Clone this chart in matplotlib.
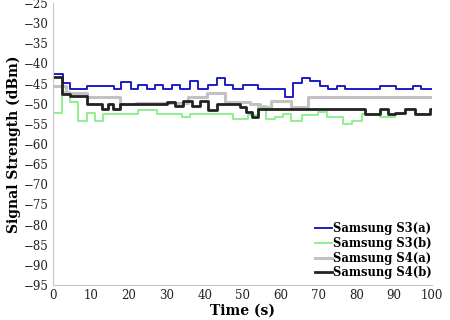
import matplotlib
matplotlib.use('Agg')
import matplotlib.pyplot as plt

# Step series (time in s, signal in dBm)
s3a_t = [0, 2.5, 4.5, 9, 16, 18, 20.5, 22.5, 24.7, 27, 29, 31.3, 33.5, 36, 38.3, 41,
         43.2, 45.4, 47.6, 50, 54.1, 61.2, 63.4, 65.6, 67.8, 70.4, 72.6, 74.8, 77,
         86.2, 90.6, 95, 97.2, 100]
s3a_v = [-42.6, -44.9, -46.4, -45.5, -46.4, -44.6, -46.3, -45.3, -46.3, -45.3, -46.3,
         -45.3, -46.3, -44.4, -46.3, -45.3, -43.7, -45.3, -46.3, -45.4, -46.4, -48.3,
         -44.75, -43.75, -44.3, -45.5, -46.3, -45.5, -46.4, -45.5, -46.4, -45.5, -46.4,
         -46.4]

s3b_t = [0, 2.3, 4.5, 6.7, 8.9, 11.1, 13.3, 22.5, 27.3, 33.9, 36.1, 47.6, 51.5, 54.1,
         56.3, 58.5, 60.7, 62.9, 65.6, 70, 72.2, 76.6, 78.8, 81.4, 86.3, 90.2, 92.9,
         95.5, 100]
s3b_v = [-52.2, -47.2, -49.7, -54.25, -52.2, -54.25, -52.6, -51.6, -52.6, -53.4, -52.6,
         -53.7, -52.9, -50.5, -53.75, -53.3, -52.5, -54.2, -52.9, -52.1, -53.3, -55,
         -54.2, -52.5, -53.2, -52.5, -51.4, -52.5, -52.5]

s4a_t = [0, 3.5, 9, 17.7, 22, 35.7, 40.5, 45.4, 52, 54.6, 57.5, 62.8, 67.3, 100]
s4a_v = [-45.5, -47.4, -48.4, -50.1, -49.8, -48.4, -47.4, -49.7, -50.2, -50.7, -49.4,
         -50.7, -48.3, -48.3]

s4b_t = [0, 2.4, 4.5, 8.9, 12.8, 14.6, 15.9, 17.7, 30, 32.2, 34.4, 36.6, 38.8, 41,
         43.2, 49.3, 51, 52.4, 54.1, 82.3, 86.3, 88.5, 90.2, 92.9, 95.5, 99.5, 100]
s4b_v = [-43.4, -47.5, -48, -50, -51.4, -50, -51.4, -50.1, -49.7, -50.5, -49.25, -50.5,
         -49.4, -51.6, -50.1, -50.8, -52.1, -53.3, -51.4, -52.5, -51.4, -52.5, -52.3,
         -51.4, -52.5, -51.4, -51.4]

y_ticks = list(range(-95, -24, 5))
x_ticks = list(range(0, 101, 10))

plt.rcParams['font.family'] = 'DejaVu Serif'

fig = plt.figure(figsize=(4.5, 3.2), dpi=100)
ax = fig.add_axes([0.118, 0.109, 0.842, 0.882])

ax.plot(s3a_t, s3a_v, drawstyle='steps-post', color='#1c1cc8', lw=1.4, label='Samsung S3(a)')
ax.plot(s3b_t, s3b_v, drawstyle='steps-post', color='#8ef08e', lw=1.4, label='Samsung S3(b)')
ax.plot(s4a_t, s4a_v, drawstyle='steps-post', color='#c4c0c4', lw=2.2, label='Samsung S4(a)')
ax.plot(s4b_t, s4b_v, drawstyle='steps-post', color='#222222', lw=2.0, label='Samsung S4(b)')

ax.set_xlim(0, 100)
ax.set_ylim(-95, -25)
ax.set_xticks(x_ticks)
ax.set_yticks(y_ticks)
ax.tick_params(length=0, labelsize=8.5, pad=3, colors='#222222')

for side in ('top', 'right'):
    ax.spines[side].set_visible(False)
for side in ('left', 'bottom'):
    ax.spines[side].set_color('#c8c8c8')

ax.set_xlabel('Time (s)', fontweight='bold', fontsize=10, labelpad=1)
ax.set_ylabel('Signal Strength (dBm)', fontweight='bold', fontsize=10, labelpad=2)

leg = ax.legend(loc='lower right', bbox_to_anchor=(1.0, 0.02), frameon=False,
                handlelength=1.5, handletextpad=0.1, labelspacing=0.15,
                borderpad=0, borderaxespad=0, prop={'weight': 'bold', 'size': 8.3})

fig.savefig('out.png', dpi=100)
